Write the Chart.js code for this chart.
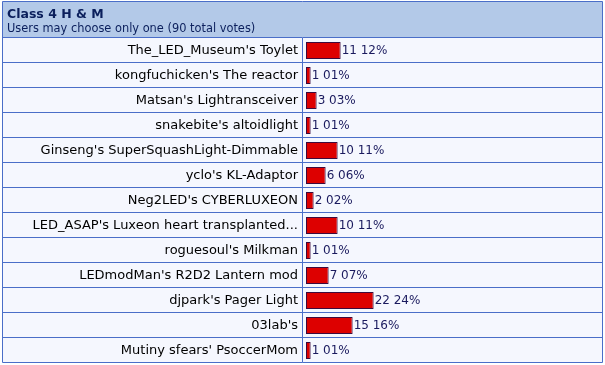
<!DOCTYPE html>
<html>
<head>
<meta charset="utf-8">
<script src="https://cdn.jsdelivr.net/npm/chart.js@4.4.0/dist/chart.umd.min.js"></script>
<style>
    html, body { margin: 0; padding: 0; background: #ffffff; }
</style>
</head>
<body>
<canvas id="pollChart" width="605" height="365"></canvas>
<script>
const pollTitle = 'Class 4 H & M';
const pollSubtitle = 'Users may choose only one (90 total votes)';

const choices = [
    "The_LED_Museum's Toylet",
    "kongfuchicken's The reactor",
    "Matsan's Lightransceiver",
    "snakebite's altoidlight",
    "Ginseng's SuperSquashLight-Dimmable",
    "yclo's KL-Adaptor",
    "Neg2LED's CYBERLUXEON",
    "LED_ASAP's Luxeon heart transplanted...",
    "roguesoul's Milkman",
    "LEDmodMan's R2D2 Lantern mod",
    "djpark's Pager Light",
    "03lab's",
    "Mutiny sfears' PsoccerMom"
];
const votes = [11, 1, 3, 1, 10, 6, 2, 10, 1, 7, 22, 15, 1];
const percents = ['12%', '01%', '03%', '01%', '11%', '06%', '02%', '11%', '01%', '07%', '24%', '16%', '01%'];

const borderBlue = '#4a6ec8';
const headerBg = '#b3c9e8';
const rowBg = '#f5f7fe';

// table frame, header and row lines
const tablePlugin = {
    id: 'pollTable',
    beforeDraw(chart) {
        const ctx = chart.ctx;
        const area = chart.chartArea;
        const yScale = chart.scales.y;
        const left = 2.5, right = 602.5, top = 1.5;
        const bottom = Math.round(area.bottom) - 0.5;
        ctx.save();
        ctx.fillStyle = headerBg;
        ctx.fillRect(left, top, right - left, area.top - top);
        ctx.fillStyle = rowBg;
        ctx.fillRect(left, area.top, right - left, bottom - area.top);

        ctx.strokeStyle = borderBlue;
        ctx.lineWidth = 1;
        ctx.beginPath();
        ctx.rect(left, top, right - left, bottom - top);
        const half = (yScale.getPixelForValue(1) - yScale.getPixelForValue(0)) / 2;
        for (let i = 0; i < choices.length; i++) {
            const y = Math.round(yScale.getPixelForValue(i) - half) - 0.5;
            ctx.moveTo(left, y);
            ctx.lineTo(right, y);
        }
        ctx.moveTo(Math.round(area.left) - 0.5, area.top);
        ctx.lineTo(Math.round(area.left) - 0.5, bottom);
        ctx.stroke();

        ctx.fillStyle = '#0b1f5c';
        ctx.textBaseline = 'alphabetic';
        ctx.font = 'bold 12.5px "DejaVu Sans"';
        ctx.fillText(pollTitle, 7, 18);
        ctx.font = '11.4px "DejaVu Sans"';
        ctx.fillText(pollSubtitle, 7, 32);
        ctx.restore();
    },
    afterDatasetsDraw(chart) {
        const ctx = chart.ctx;
        const meta = chart.getDatasetMeta(0);
        ctx.save();
        ctx.fillStyle = '#1a1a5e';
        ctx.font = '12px "DejaVu Sans"';
        ctx.textBaseline = 'middle';
        meta.data.forEach((bar, i) => {
            ctx.fillText(votes[i] + ' ' + percents[i], bar.x + 1, bar.y);
        });
        ctx.restore();
    }
};

const ctx = document.getElementById('pollChart').getContext('2d');
const pollChart = new Chart(ctx, {
    type: 'bar',
    data: {
        labels: choices,
        datasets: [{
            data: votes,
            base: -0.55,
            backgroundColor: '#dd0000',
            borderColor: '#3c0a3c',
            borderWidth: 1,
            borderSkipped: false,
            barPercentage: 0.68,
            categoryPercentage: 1
        }]
    },
    plugins: [tablePlugin],
    options: {
        indexAxis: 'y',
        responsive: false,
        animation: false,
        events: [],
        layout: { padding: { left: 0, right: 2, top: 38, bottom: 2 } },
        plugins: {
            legend: { display: false },
            tooltip: { enabled: false }
        },
        scales: {
            x: {
                display: false,
                min: -1.55,
                max: 98.45
            },
            y: {
                afterFit(scale) {
                    scale.width = 303;
                    scale.paddingTop = 0;
                    scale.paddingBottom = 0;
                },
                grid: { display: false, drawTicks: false },
                border: { display: false },
                ticks: {
                    padding: 5,
                    color: '#000000',
                    font: { family: 'DejaVu Sans', size: 13 }
                }
            }
        }
    }
});
</script>
</body>
</html>
